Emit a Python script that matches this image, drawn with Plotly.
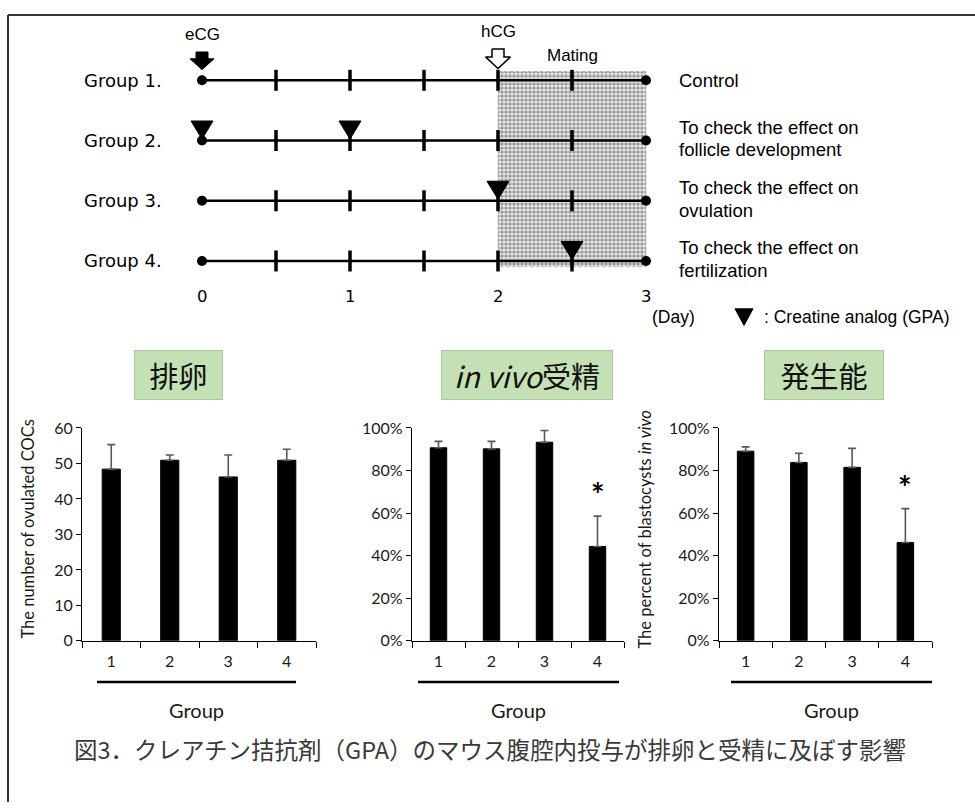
import plotly.graph_objects as go

# ---------------- data ----------------
groups = [1, 2, 3, 4]
group_labels = ["Group 1.", "Group 2.", "Group 3.", "Group 4."]
descriptions = [
    ["Control"],
    ["To check the effect on", "follicle development"],
    ["To check the effect on", "ovulation"],
    ["To check the effect on", "fertilization"],
]
injection_days = [[], [0, 1], [2], [2.5]]
tick_days = [0.5, 1, 1.5, 2, 2.5]
day_ticks = [0, 1, 2, 3]
start_day, end_day = 0, 3
ecg_day, hcg_day = 0, 2
mating_window = [2, 3]

categories = ["1", "2", "3", "4"]
ovulated = [48.4, 50.9, 46.2, 50.9]
ovulated_err_top = [55.3, 52.4, 52.4, 54.0]
ovulated_sig = [False, False, False, False]
fert = [90.7, 90.2, 93.3, 44.3]
fert_err_top = [93.7, 93.7, 98.8, 58.6]
fert_sig = [False, False, False, True]
blast = [89.1, 83.8, 81.5, 46.2]
blast_err_top = [91.1, 88.1, 90.4, 62.1]
blast_sig = [False, False, False, True]

W, H = 975, 811
# diagram pixel scale (day -> px, group -> px)
D0, DPX = 202.0, 148.0
G0, GPX = 72.0, 61.67


def gy(px):
    return 1 + (px - G0) / GPX


def dx(px):
    return (px - D0) / DPX


fig = go.Figure()

BLACK = "#000000"
ARIAL = "Liberation Sans"
DEJAVU = "DejaVu Sans"
CAL = "Lato"
CJK = "Noto Sans CJK JP"

# ---- shaded mating window ----
fig.add_trace(go.Scatter(
    x=[mating_window[0], mating_window[1], mating_window[1], mating_window[0], mating_window[0]],
    y=[gy(63), gy(63), gy(263), gy(263), gy(63)],
    mode="lines", fill="toself",
    fillcolor="#d0d0d0",
    fillpattern=dict(shape=".", fgcolor="#444444", bgcolor="#e4e4e4", size=4, solidity=0.5),
    line=dict(color="#aaaaaa", width=0.8, dash="dot"),
    xaxis="x4", yaxis="y4", hoverinfo="skip", showlegend=False))

# ---- timelines ----
for g in groups:
    fig.add_trace(go.Scatter(
        x=[start_day, end_day], y=[g, g], mode="lines+markers",
        line=dict(color=BLACK, width=2.5),
        marker=dict(color=BLACK, size=10, symbol="circle"),
        xaxis="x4", yaxis="y4", hoverinfo="skip", showlegend=False))
    fig.add_trace(go.Scatter(
        x=tick_days, y=[g] * len(tick_days), mode="markers",
        marker=dict(symbol="line-ns", size=15, line=dict(color=BLACK, width=3.5)),
        xaxis="x4", yaxis="y4", hoverinfo="skip", showlegend=False))

# ---- injection triangles ----
HW = 11 / DPX
TH = 20 / GPX
tx, ty = [], []
for g, days in zip(groups, injection_days):
    for d in days:
        tx += [d - HW, d + HW, d, d - HW, None]
        ty += [g - TH, g - TH, g - 1.5 / GPX, g - TH, None]
# legend triangle
lg_day = dx(744)
tx += [lg_day - 9 / DPX, lg_day + 9 / DPX, lg_day, lg_day - 9 / DPX]
ty += [gy(306), gy(306), gy(323), gy(306)]
fig.add_trace(go.Scatter(x=tx, y=ty, mode="lines", fill="toself", fillcolor=BLACK,
                         line=dict(color=BLACK, width=1), xaxis="x4", yaxis="y4",
                         hoverinfo="skip", showlegend=False))


# ---- arrows (eCG filled, hCG open) ----
def arrow(day, top, mid, bot, sw, hw):
    s, h = sw / DPX, hw / DPX
    return ([day - s, day + s, day + s, day + h, day, day - h, day - s, day - s],
            [gy(top), gy(top), gy(mid), gy(mid), gy(bot), gy(mid), gy(mid), gy(top)])


ax_, ay_ = arrow(ecg_day, 43, 50, 61, 6, 12)
fig.add_trace(go.Scatter(x=ax_, y=ay_, mode="lines", fill="toself", fillcolor=BLACK,
                         line=dict(color=BLACK, width=1), xaxis="x4", yaxis="y4",
                         hoverinfo="skip", showlegend=False))
ax_, ay_ = arrow(hcg_day, 40, 48, 60, 6, 12.5)
fig.add_trace(go.Scatter(x=ax_, y=ay_, mode="lines", fill="toself", fillcolor="white",
                         line=dict(color=BLACK, width=1.5), xaxis="x4", yaxis="y4",
                         hoverinfo="skip", showlegend=False))

annotations = []


def dia_text(x, y, text, font, size, xanchor="center"):
    annotations.append(dict(x=x, y=y, xref="x4", yref="y4", text=text, showarrow=False,
                            xanchor=xanchor, yanchor="middle",
                            font=dict(family=font, size=size, color=BLACK)))


for g, lab, desc in zip(groups, group_labels, descriptions):
    dia_text(dx(82), g, lab, DEJAVU, 18, "left")
    if len(desc) == 1:
        dia_text(dx(677), g, desc[0], ARIAL, 18.5, "left")
    else:
        dia_text(dx(677), g - 13.5 / GPX, desc[0], ARIAL, 18.5, "left")
        dia_text(dx(677), g + 9.5 / GPX, desc[1], ARIAL, 18.5, "left")

dia_text(ecg_day, gy(25), "eCG", ARIAL, 17)
dia_text(hcg_day, gy(22), "hCG", ARIAL, 17)
dia_text((mating_window[0] + mating_window[1]) / 2, gy(47), "Mating", ARIAL, 17)
for d in day_ticks:
    dia_text(d, gy(293), str(d), DEJAVU, 16.5)
dia_text(dx(673), gy(314), "(Day)", ARIAL, 17.5)
dia_text(dx(762), gy(314), ": Creatine analog (GPA)", ARIAL, 17.5, "left")

# ---------------- bar charts ----------------
charts = [
    dict(vals=ovulated, err=ovulated_err_top, sig=ovulated_sig, xa="x", ya="y", xd=(82, 316),
         ymax=60, dtick=10, suffix="", title="排卵", box=(134, 223),
         ylabel="The number of ovulated COCs", ylab_x=28, line=(97, 296)),
    dict(vals=fert, err=fert_err_top, sig=fert_sig, xa="x2", ya="y2", xd=(412, 624),
         ymax=100, dtick=20, suffix="%", title="<i>in vivo</i>受精", box=(441, 613),
         ylabel=None, ylab_x=None, line=(418, 619)),
    dict(vals=blast, err=blast_err_top, sig=blast_sig, xa="x3", ya="y3", xd=(719, 932),
         ymax=100, dtick=20, suffix="%", title="発生能", box=(764, 884),
         ylabel="The percent of blastocysts <i>in vivo</i>", ylab_x=645, line=(731, 932)),
]

Y_TOP, Y_BOT = 428, 646
layout_axes = {}
shapes = []
for i, c in enumerate(charts):
    fig.add_trace(go.Bar(
        x=categories, y=c["vals"], width=0.31,
        marker=dict(color=BLACK, line=dict(color=BLACK, width=1)),
        error_y=dict(type="data", symmetric=False,
                     array=[e - v for e, v in zip(c["err"], c["vals"])],
                     arrayminus=[0] * len(c["vals"]),
                     color="#595959", thickness=1.6, width=4),
        xaxis=c["xa"], yaxis=c["ya"], showlegend=False, hoverinfo="skip"))
    xn = "xaxis" + ("" if i == 0 else str(i + 1))
    yn = "yaxis" + ("" if i == 0 else str(i + 1))
    layout_axes[xn] = dict(
        domain=[c["xd"][0] / W, c["xd"][1] / W], anchor=c["ya"],
        type="category", range=[-0.5, 3.5], tickson="boundaries",
        ticks="outside", ticklen=6, tickwidth=1, tickcolor=BLACK,
        showline=True, linecolor=BLACK, linewidth=1.2, showgrid=False,
        ticklabelstandoff=6,
        tickfont=dict(family=CAL, size=16, color="#1a1a1a"), fixedrange=True)
    layout_axes[yn] = dict(
        domain=[1 - Y_BOT / H, 1 - Y_TOP / H], anchor=c["xa"],
        range=[0, c["ymax"]], dtick=c["dtick"], ticksuffix=c["suffix"],
        ticks="outside", ticklen=5, tickwidth=1, tickcolor=BLACK,
        showline=True, linecolor=BLACK, linewidth=1.2, showgrid=False, zeroline=False,
        tickfont=dict(family=CAL, size=16, color="#1a1a1a"), fixedrange=True)
    # underline and "Group"
    shapes.append(dict(type="line", xref="paper", yref="paper",
                       x0=c["line"][0] / W, x1=c["line"][1] / W,
                       y0=1 - 688 / H, y1=1 - 688 / H,
                       line=dict(color=BLACK, width=2.5)))
    annotations.append(dict(x=(c["line"][0] + c["line"][1]) / 2 / W, y=1 - 717 / H,
                            xref="paper", yref="paper", text="Group", showarrow=False,
                            xanchor="center", yanchor="middle",
                            font=dict(family=CAL, size=20, color="#1a1a1a")))
    # title box
    bx0, bx1 = c["box"]
    annotations.append(dict(x=(bx0 + bx1) / 2 / W, y=1 - 374 / H, xref="paper", yref="paper",
                            text=c["title"], showarrow=False, bgcolor="#C5E0B4",
                            xanchor="center", yanchor="middle",
                            bordercolor="#A9C8A0", borderwidth=1, borderpad=0,
                            width=bx1 - bx0 - 2, height=48, valign="middle",
                            font=dict(family=CJK, size=29, color="#111111")))
    if c["ylabel"]:
        annotations.append(dict(x=c["ylab_x"] / W, y=1 - 532 / H, xref="paper", yref="paper",
                                text=c["ylabel"], textangle=-90, showarrow=False,
                                xanchor="center", yanchor="middle",
                                font=dict(family=CAL, size=16.5, color="#1a1a1a")))
    for k, (e, s) in enumerate(zip(c["err"], c["sig"])):
        if s:
            annotations.append(dict(x=k, y=e, xref=c["xa"], yref=c["ya"], text="<b>*</b>",
                                    showarrow=False, xanchor="center", yanchor="bottom", yshift=0,
                                    font=dict(family=CAL, size=32, color=BLACK)))

# caption
annotations.append(dict(x=490 / W, y=1 - 757 / H, xref="paper", yref="paper",
                        xanchor="center", yanchor="middle",
                        text="図3．クレアチン拮抗剤（GPA）のマウス腹腔内投与が排卵と受精に及ぼす影響",
                        showarrow=False, font=dict(family=CJK, size=23.5, color="#3a3a3a")))

# frame (top & left edges visible)
shapes.append(dict(type="line", xref="paper", yref="paper", x0=8 / W, x1=1, y0=1 - 5 / H, y1=1 - 5 / H,
                   line=dict(color="#333333", width=2)))
shapes.append(dict(type="line", xref="paper", yref="paper", x0=8 / W, x1=8 / W, y0=0, y1=1 - 5 / H,
                   line=dict(color="#333333", width=2)))

fig.update_layout(
    width=W, height=H, autosize=False,
    margin=dict(l=0, r=0, t=0, b=0),
    paper_bgcolor="white", plot_bgcolor="rgba(0,0,0,0)",
    bargap=0.6,
    xaxis4=dict(domain=[0, 1], anchor="y4", range=[dx(0), dx(W)], visible=False, fixedrange=True),
    yaxis4=dict(domain=[0, 1], anchor="x4", range=[gy(H), gy(0)], visible=False, fixedrange=True),
    annotations=annotations, shapes=shapes,
    **layout_axes,
)

fig.write_html("out.html", config={"displayModeBar": False},
               post_script="document.body.style.margin='0';document.body.style.overflow='hidden';")
